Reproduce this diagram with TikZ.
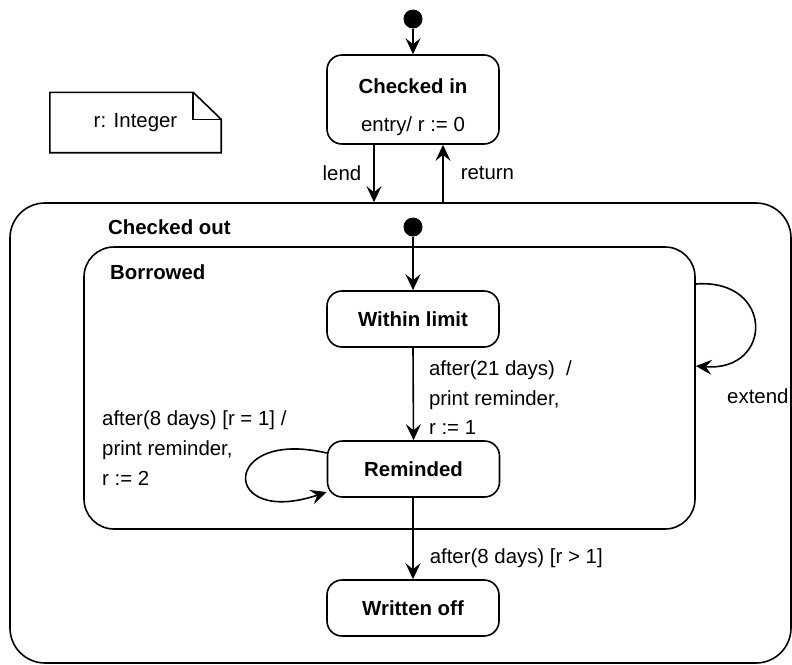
\documentclass[tikz,border=0pt]{standalone}
\usepackage{fontspec}
\setmainfont{Liberation Sans}
\usetikzlibrary{arrows.meta}
\begin{document}
\begin{tikzpicture}[x=1pt,y=-1pt,
  every node/.style={font=\fontsize{20.4}{29.5}\selectfont},
  stroke/.style={line width=1.6pt},
  arr/.style={stroke, -{Stealth[length=16pt,width=15pt,inset=6pt]}},
  state/.style={draw, stroke, rounded corners=15pt, minimum width=172pt,
    minimum height=56pt, inner sep=0pt,
    font=\fontsize{20.4}{29.5}\selectfont\bfseries},
  region/.style={draw, stroke, inner sep=0pt},
  initdot/.style={circle, fill=black, minimum size=19pt, inner sep=0pt},
  txt/.style={inner sep=0pt},
  title/.style={inner sep=0pt, anchor=base west,
    font=\fontsize{20.4}{29.5}\selectfont\bfseries}]
\useasboundingbox (0,0) rectangle (792,664);

% composite states
\node[region, rounded corners=35pt, minimum width=781pt, minimum height=460pt]
  (co) at (400.5,433) {};
\node[title] (coTitle) at (108,234) {Checked out};
\node[region, rounded corners=30pt, minimum width=611pt, minimum height=282pt]
  (bw) at (389.5,388) {};
\node[title] (bwTitle) at (110,279) {Borrowed};

% note
\node[txt, minimum width=171pt, minimum height=60pt] (note) at (135.5,122.5) {r: Integer};
\draw[stroke, line join=miter]
  (note.north west) -- ([xshift=-28pt]note.north east)
  -- ([yshift=-27pt]note.north east) -- (note.south east)
  -- (note.south west) -- cycle;
\draw[stroke] ([xshift=-28pt]note.north east) |- ([yshift=-27pt]note.north east);

% simple states
\node[state, minimum height=89pt] (ci) at (413,99.5) {};
\node[txt, anchor=base, font=\fontsize{20.4}{29.5}\selectfont\bfseries]
  (ciTitle) at (413,93) {Checked in};
\node[txt, anchor=base] (ciEntry) at (413,131) {entry/ r := 0};
\node[state] (wl) at (413,319) {Within limit};
\node[state] (rm) at (413.5,469) {Reminded};
\node[state] (wo) at (413,608) {Written off};

% initial pseudostates
\node[initdot] (i1) at (413,19) {};
\node[initdot] (i2) at (413,227) {};

\coordinate (lx) at (374,0);
\coordinate (rx) at (443,0);

% transitions
\draw[arr] (i1) -- (ci.north);
\draw[arr] (ci.south -| lx) -- node[txt, midway, anchor=east, xshift=-12pt] {lend} (co.north -| lx);
\draw[arr] (co.north -| rx) -- node[txt, midway, anchor=west, xshift=17pt] {return} (ci.south -| rx);
\draw[arr] (i2) -- (wl.north);
\draw[arr] (wl.south) -- node[txt, pos=0.543, anchor=west, xshift=15pt, align=left]
  {after(21 days)\ \ /\\print reminder,\\r := 1} (rm.north);
\draw[arr] (rm.south -| wo.north) -- node[txt, pos=0.743, anchor=west, xshift=16pt]
  {after(8 days) [r > 1]} (wo.north);
\draw[arr] ([yshift=16pt]rm.west) .. controls (220,428) and (220,528) .. ([yshift=-23pt]rm.west);
\node[txt, anchor=west, align=left, font=\fontsize{20.4}{30}\selectfont]
  (loopLabel) at (102,448.5) {after(8 days) [r = 1] /\\print reminder,\\r := 2};
\draw[arr] ([yshift=104pt]bw.east) .. controls (774,278) and (774,372) .. ([yshift=22pt]bw.east);
\node[txt, anchor=base west] (extendLabel) at (727,403) {extend};
\end{tikzpicture}
\end{document}
